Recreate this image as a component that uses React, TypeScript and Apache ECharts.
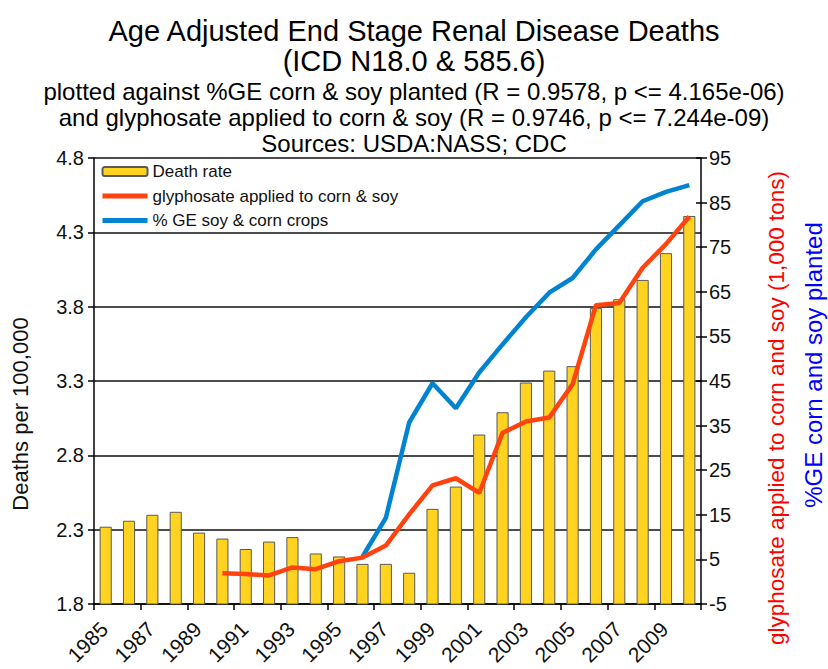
import React, { useEffect, useRef } from "react";
import * as echarts from "echarts";

const years = ["1985","1986","1987","1988","1989","1990","1991","1992","1993","1994","1995","1996","1997","1998","1999","2000","2001","2002","2003","2004","2005","2006","2007","2008","2009","2010"];
const deathRate = [2.32,2.36,2.40,2.42,2.28,2.24,2.17,2.22,2.25,2.14,2.12,2.07,2.07,2.01,2.44,2.59,2.94,3.09,3.29,3.37,3.40,3.79,3.85,3.98,4.16,4.41];
const glyphosate = [null,null,null,null,null,1.9,1.7,1.4,3.2,2.8,4.6,5.4,8.1,15.1,21.6,23.2,19.9,33.4,35.9,36.8,44.3,62,62.5,70.4,75.7,81.9];
const geCrops = [null,null,null,null,null,null,null,null,null,null,null,5.6,14.3,35.7,44.5,38.9,46.9,53.2,59.3,64.8,68.1,74.5,79.9,85.3,87.4,88.9];

const titleLines = [
  "Age Adjusted End Stage Renal Disease Deaths",
  "(ICD N18.0 & 585.6)",
  "plotted against %GE corn & soy planted (R = 0.9578, p <= 4.165e-06)",
  "and glyphosate applied to corn & soy (R = 0.9746, p <= 7.244e-09)",
  "Sources: USDA:NASS; CDC",
];

const FONT = "'Liberation Sans', Arial, sans-serif";

export default function App() {
  const ref = useRef<HTMLDivElement>(null);
  useEffect(() => {
    if (!ref.current) return;
    const chart = echarts.init(ref.current, null, { renderer: "svg" });
    const titleY = [34, 64, 94, 120, 146];
    const titleSize = [29, 29, 24, 24, 24];
    chart.setOption({
      animation: false,
      backgroundColor: "#ffffff",
      textStyle: { fontFamily: FONT },
      title: titleLines.map((t, i) => ({
        text: t,
        left: "center",
        top: titleY[i] - titleSize[i] * 0.6,
        textStyle: { fontFamily: FONT, fontSize: titleSize[i], fontWeight: "normal", color: "#000" },
        padding: 0,
      })),
      grid: { left: 94, right: 127, top: 158, bottom: 65, containLabel: false, outerBoundsMode: "none" },
      legend: {
        orient: "vertical",
        left: 100,
        top: 163,
        itemWidth: 45,
        itemHeight: 9,
        itemGap: 7.5,
        padding: 0,
        textStyle: { fontSize: 17, color: "#111", fontFamily: FONT },
        lineStyle: { width: 5 },
        data: [
          { name: "Death rate" },
          { name: "glyphosate applied to corn & soy", itemStyle: { opacity: 0 } },
          { name: "% GE soy & corn crops", itemStyle: { opacity: 0 } },
        ],
      },
      xAxis: {
        type: "category",
        data: years,
        boundaryGap: true,
        axisLine: { onZero: false, lineStyle: { color: "#000", width: 1.5 } },
        axisTick: { show: true, length: 6, lineStyle: { color: "#000", width: 1.5 } },
        axisLabel: { rotate: 45, interval: 1, fontSize: 21, color: "#111", margin: 20, padding: [0, 2, 0, 0] },
        splitLine: { show: false },
      },
      yAxis: [
        {
          type: "value",
          min: 1.8,
          max: 4.8,
          interval: 0.5,
          position: "left",
          axisLine: { show: true, onZero: false, lineStyle: { color: "#000", width: 1.5 } },
          axisTick: { show: true, length: 6, lineStyle: { color: "#000", width: 1.5 } },
          axisLabel: { fontSize: 20, color: "#111", margin: 10, formatter: (v: number) => v.toFixed(1) },
          splitLine: { show: true, lineStyle: { color: "#111", width: 1.5 } },
        },
        {
          type: "value",
          min: -5,
          max: 95,
          interval: 10,
          position: "right",
          axisLine: { show: true, onZero: false, lineStyle: { color: "#000", width: 1.5 } },
          axisTick: { show: true, length: 6, lineStyle: { color: "#000", width: 1.5 } },
          axisLabel: { fontSize: 20, color: "#111", margin: 8 },
          splitLine: { show: false },
        },
        {
          type: "value",
          min: -5,
          max: 95,
          interval: 10,
          position: "right",
          axisLine: { show: false, onZero: false },
          axisTick: { show: true, inside: true, length: 5, lineStyle: { color: "#000", width: 1.5 } },
          axisLabel: { show: false },
          splitLine: { show: false },
        },
      ],
      series: [
        {
          name: "Death rate",
          type: "bar",
          yAxisIndex: 0,
          data: deathRate,
          barWidth: "52%",
          itemStyle: { color: "#FFD320", borderColor: "#5a5a5a", borderWidth: 1 },
          z: 2,
        },
        {
          name: "glyphosate applied to corn & soy",
          type: "line",
          yAxisIndex: 1,
          data: glyphosate,
          symbol: "none",
          showSymbol: false,
          lineStyle: { color: "#FF420E", width: 4.5 },
          itemStyle: { color: "#FF420E" },
          z: 4,
        },
        {
          name: "% GE soy & corn crops",
          type: "line",
          yAxisIndex: 1,
          data: geCrops,
          symbol: "none",
          showSymbol: false,
          lineStyle: { color: "#0084D1", width: 4.5 },
          itemStyle: { color: "#0084D1" },
          z: 3,
        },
      ],
      graphic: [
        {
          type: "text",
          x: 20,
          y: 414,
          rotation: Math.PI / 2,
          style: {
            text: "Deaths per 100,000",
            fill: "#111",
            font: `22px ${FONT}`,
            align: "center",
            verticalAlign: "middle",
          },
        },
        {
          type: "text",
          x: 776,
          y: 408,
          rotation: Math.PI / 2,
          style: {
            text: "glyphosate applied to corn and soy (1,000 tons)",
            fill: "#ff0000",
            font: `22.5px ${FONT}`,
            align: "center",
            verticalAlign: "middle",
          },
        },
        {
          type: "text",
          x: 813,
          y: 365,
          rotation: Math.PI / 2,
          style: {
            text: "%GE corn and soy planted",
            fill: "#0000ff",
            font: `24px ${FONT}`,
            align: "center",
            verticalAlign: "middle",
          },
        },
      ],
    });
    return () => chart.dispose();
  }, []);
  return <div ref={ref} style={{ position: "fixed", left: 0, top: 0, width: 828, height: 669 }} />;
}
